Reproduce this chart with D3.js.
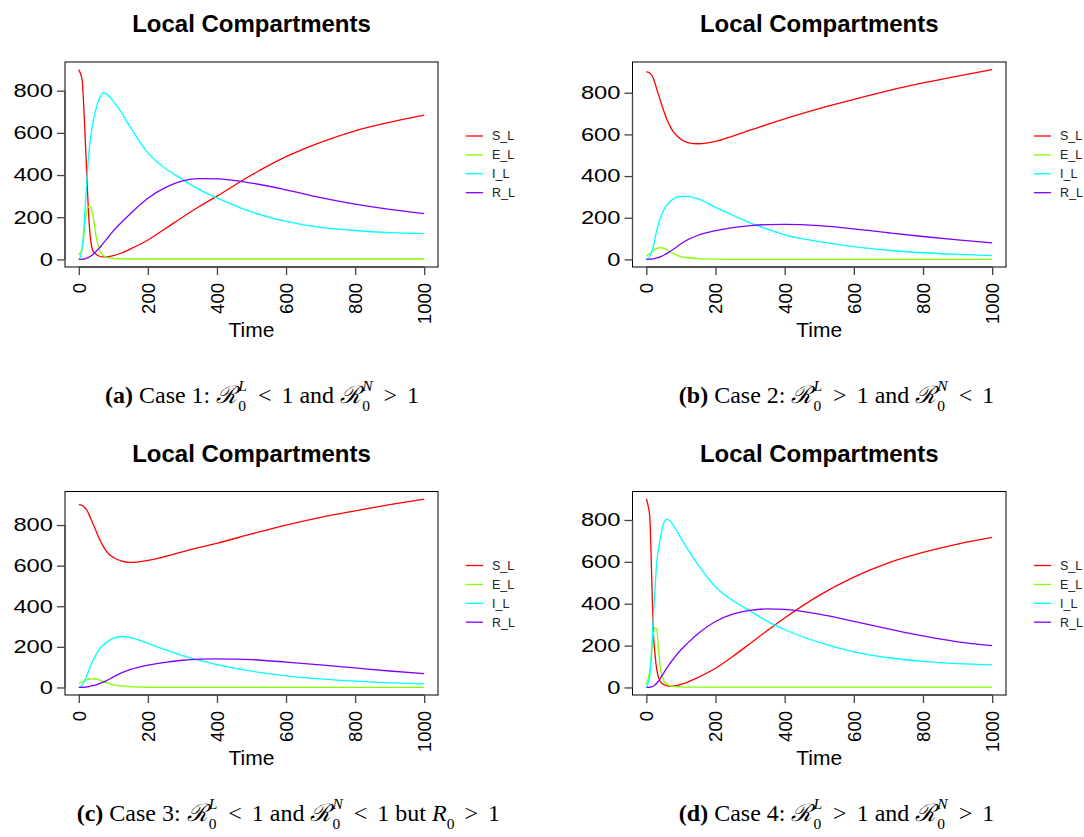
<!DOCTYPE html>
<html><head><meta charset="utf-8">
<script src="https://cdn.jsdelivr.net/npm/d3@7"></script>
<style>
body{margin:0;background:#fff;}
svg text{white-space:pre;}
</style></head>
<body><svg id="c" width="1084" height="837"></svg>
<script>
// ---- data ----
const times = [0,5,10,15,20,25,30,35,40,50,60,70,80,100,120,150,200,250,300,350,400,500,600,700,800,900,1000];
const seriesNames = ["S_L","E_L","I_L","R_L"];
const seriesColors = ["#FF0000","#80FF00","#00FFFF","#8000FF"];
const xTicks = [0,200,400,600,800,1000];
const yTicks = [0,200,400,600,800];

// Case 1
const S_a = [900,880,846,700,520,330,170,83,43,25,15,12,12,18,28,50,92,145,200,252,300,400,487,555,610,650,684];
const E_a = [20,35,50,120,200,240,252,245,215,110,45,20,10,5,3,2,2,2,2,2,2,2,2,2,2,2,2];
const I_a = [0,15,60,150,290,420,520,590,640,715,765,790,785,750,705,625,505,432,380,330,292,225,180,152,137,127,122];
const R_a = [0,0,1,2,4,7,11,16,22,38,55,75,95,135,170,218,290,340,372,383,382,362,330,293,262,237,217];
// Case 2
const S_b = [900,899,895,885,870,846,818,792,765,715,670,635,608,577,561,555,566,592,620,648,675,724,768,810,847,880,911];
const E_b = [17,22,28,35,42,48,52,55,56,54,45,35,27,13,8,4,1,0,0,0,0,0,0,0,0,0,0];
const I_b = [0,5,15,35,60,98,138,170,196,237,262,280,292,303,303,290,250,212,175,145,118,85,61,44,32,24,18];
const R_b = [0,0,1,2,3,5,7,9,12,20,29,40,51,75,95,116,138,153,162,167,168,162,147,128,110,94,79];
// Case 3
const S_c = [900,899,896,890,880,868,850,830,810,770,730,697,670,640,625,616,626,645,668,690,710,756,800,838,870,900,928];
const E_c = [20,24,28,32,36,39,41,42,43,42,36,30,24,13,8,4,1,0,0,0,0,0,0,0,0,0,0];
const I_c = [0,5,14,28,45,66,88,110,130,162,190,208,222,242,251,246,217,186,157,133,113,80,57,42,31,23,18];
const R_c = [0,0,1,1,2,3,5,7,9,13,19,26,34,52,69,89,110,124,134,140,141,137,125,111,96,81,68];
// Case 4
const S_d = [900,870,816,560,276,160,86,50,30,14,8,6,7,15,26,48,92,148,210,272,332,440,527,595,645,685,717];
const E_d = [15,40,80,160,250,285,280,190,100,35,15,8,5,3,2,2,2,2,2,2,2,2,2,2,2,2,2];
const I_d = [0,20,54,170,324,470,594,660,705,784,803,792,770,713,660,585,480,415,365,316,277,215,170,142,125,114,108];
const R_d = [0,0,1,3,6,12,20,30,42,68,95,118,140,180,213,258,315,350,368,375,373,350,316,280,246,218,200];

const panels = [
  {series:[S_a,E_a,I_a,R_a], left:65, top:62, right:438, bottom:267,
   cap:[{t:"(a)",b:true},{t:" Case 1: "},{s:"L"},{rel:"<"},{t:"1 and "},{s:"N"},{rel:">"},{t:"1"}], cx:262, cy:403},
  {series:[S_b,E_b,I_b,R_b], left:632.5, top:62, right:1006, bottom:267,
   cap:[{t:"(b)",b:true},{t:" Case 2: "},{s:"L"},{rel:">"},{t:"1 and "},{s:"N"},{rel:"<"},{t:"1"}], cx:836.5, cy:403},
  {series:[S_c,E_c,I_c,R_c], left:65, top:491.5, right:438, bottom:695,
   cap:[{t:"(c)",b:true},{t:" Case 3: "},{s:"L"},{rel:"<"},{t:"1 and "},{s:"N"},{rel:"<"},{t:"1 but "},{r:true},{rel:">"},{t:"1"}], rx:500, cy:821},
  {series:[S_d,E_d,I_d,R_d], left:632.5, top:491.5, right:1006, bottom:695,
   cap:[{t:"(d)",b:true},{t:" Case 4: "},{s:"L"},{rel:">"},{t:"1 and "},{s:"N"},{rel:">"},{t:"1"}], cx:836.5, cy:821}
];

const svg = d3.select("#c");
const sans = "'Liberation Sans', Arial, Helvetica, sans-serif";
const serif = "'Liberation Serif', 'Times New Roman', 'DejaVu Serif', serif";

panels.forEach(p => {
  const g = svg.append("g");
  const all = p.series.flat();
  const ymax = d3.max(all), ymin = Math.min(0, d3.min(all));
  const yr = ymax - ymin;
  const x = d3.scaleLinear().domain([-40, 1040]).range([p.left, p.right]);
  const y = d3.scaleLinear().domain([ymin - 0.04*yr, ymax + 0.04*yr]).range([p.bottom, p.top]);

  // title
  g.append("text").attr("x", (p.left+p.right)/2).attr("y", p.top-30)
    .attr("text-anchor","middle").attr("font-family",sans).attr("font-weight","bold")
    .attr("font-size",24).attr("fill","#000").text("Local Compartments");

  // lines
  const line = d3.line().x((d,i)=>x(times[i])).y(d=>y(d)).curve(d3.curveMonotoneX);
  p.series.forEach((s,k) => {
    g.append("path").attr("d", line(s)).attr("fill","none")
      .attr("stroke", seriesColors[k]).attr("stroke-width",1.3);
  });

  // box
  g.append("rect").attr("x",p.left).attr("y",p.top).attr("width",p.right-p.left)
    .attr("height",p.bottom-p.top).attr("fill","none").attr("stroke","#000").attr("stroke-width",1);

  // y axis
  const ya = d3.axisLeft(y).tickValues(yTicks).tickFormat(d3.format("d")).tickSize(8).tickPadding(4);
  const yg = g.append("g").attr("transform",`translate(${p.left},0)`).call(ya);
  yg.select(".domain").attr("d", `M0,${y(0)}V${y(800)}`).attr("stroke","#444").attr("stroke-width",1.3);
  yg.selectAll(".tick line").attr("stroke","#444").attr("stroke-width",1.3);
  yg.selectAll(".tick text").attr("font-family",sans).attr("font-size",18.5).attr("fill","#000")
    .each(function(d){ const n = String(d).length; d3.select(this).attr("textLength", 13.2*n).attr("lengthAdjust","spacingAndGlyphs"); });

  // x axis
  const xa = d3.axisBottom(x).tickValues(xTicks).tickFormat(d3.format("d")).tickSize(8).tickPadding(4);
  const xg = g.append("g").attr("transform",`translate(0,${p.bottom})`).call(xa);
  xg.select(".domain").attr("d", `M${x(0)},0H${x(1000)}`).attr("stroke","#444").attr("stroke-width",1.3);
  xg.selectAll(".tick line").attr("stroke","#444").attr("stroke-width",1.3);
  xg.selectAll(".tick text").attr("font-family",sans).attr("font-size",18.5).attr("fill","#000")
    .attr("transform","rotate(-90)").attr("x",-16).attr("y",0).attr("dy","0.35em")
    .attr("text-anchor","end");

  // x label
  g.append("text").attr("x",(p.left+p.right)/2).attr("y",p.bottom+70)
    .attr("text-anchor","middle").attr("font-family",sans).attr("font-size",21).text("Time");

  // legend
  const lg = g.append("g").attr("transform",`translate(${p.right+28},${p.top+74})`);
  seriesNames.forEach((n,k) => {
    lg.append("line").attr("x1",0).attr("x2",17).attr("y1",k*18.9).attr("y2",k*18.9)
      .attr("stroke",seriesColors[k]).attr("stroke-width",1.3);
    lg.append("text").attr("x",26).attr("y",k*18.9).attr("dy","0.35em")
      .attr("font-family",sans).attr("font-size",12.5).attr("fill","#222").text(n);
  });

  // caption
  const cg = svg.append("g");
  let cx = 0;
  const fs = 24, ss = 15.5, relPad = 10;
  p.cap.forEach(seg => {
    if (seg.t !== undefined) {
      const t = cg.append("text").attr("x",cx).attr("y",0).attr("font-family",serif)
        .attr("font-size",fs).attr("font-weight",seg.b?"bold":"normal").text(seg.t);
      cx += t.node().getComputedTextLength();
    } else if (seg.rel !== undefined) {
      cx += relPad;
      const t = cg.append("text").attr("x",cx).attr("y",0).attr("font-family",serif)
        .attr("font-size",fs).text(seg.rel);
      cx += t.node().getComputedTextLength() + relPad;
    } else if (seg.s !== undefined) {
      const t = cg.append("text").attr("x",cx).attr("y",0).attr("font-family",serif)
        .attr("font-style","italic").attr("font-size",fs).text("\u211B");
      cx += t.node().getComputedTextLength() + 1;
      const sup = cg.append("text").attr("x",cx).attr("y",-12.5).attr("font-family",serif)
        .attr("font-style","italic").attr("font-size",ss).text(seg.s);
      const sub = cg.append("text").attr("x",cx).attr("y",7.5).attr("font-family",serif)
        .attr("font-size",ss).text("0");
      cx += Math.max(sup.node().getComputedTextLength(), sub.node().getComputedTextLength()) + 1;
    } else if (seg.r) {
      const t = cg.append("text").attr("x",cx).attr("y",0).attr("font-family",serif)
        .attr("font-style","italic").attr("font-size",fs).text("R");
      cx += t.node().getComputedTextLength();
      const sub = cg.append("text").attr("x",cx).attr("y",7.5).attr("font-family",serif)
        .attr("font-size",ss).text("0");
      cx += sub.node().getComputedTextLength();
    }
  });
  const x0 = p.rx !== undefined ? p.rx - cx : p.cx - cx/2;
  cg.attr("transform",`translate(${x0},${p.cy})`);
});
</script></body></html>
